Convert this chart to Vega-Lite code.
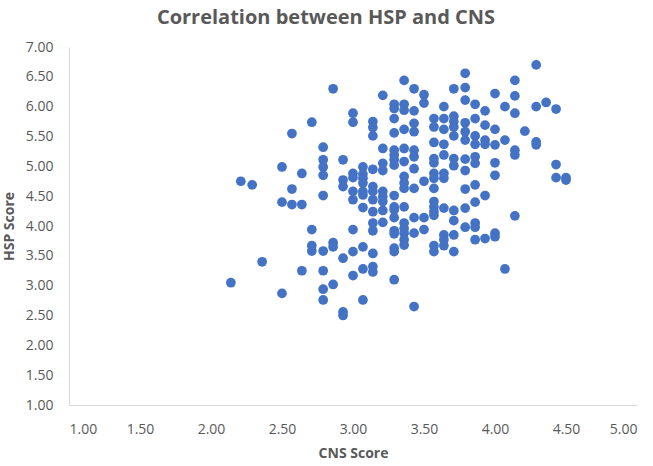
{
  "$schema": "https://vega.github.io/schema/vega-lite/v6.json",
  "width": 568,
  "height": 358,
  "autosize": {"type": "none"},
  "padding": {"left": 69, "top": 47, "right": 16, "bottom": 61},
  "background": "white",
  "config": {"view": {"stroke": null}},
  "title": {
    "text": "Correlation between HSP and CNS",
    "font": "Open Sans",
    "fontSize": 20,
    "fontWeight": "bold",
    "color": "#595959",
    "anchor": "middle",
    "dx": -27,
    "offset": 12
  },
  "data": {
    "values": [
      {"CNS": 2.14, "HSP": 3.05},
      {"CNS": 2.21, "HSP": 4.75},
      {"CNS": 2.29, "HSP": 4.69},
      {"CNS": 2.36, "HSP": 3.40},
      {"CNS": 2.5, "HSP": 4.99}, {"CNS": 2.5, "HSP": 4.40}, {"CNS": 2.5, "HSP": 2.87},
      {"CNS": 2.57, "HSP": 5.55}, {"CNS": 2.57, "HSP": 4.62}, {"CNS": 2.57, "HSP": 4.36},
      {"CNS": 2.64, "HSP": 4.88}, {"CNS": 2.64, "HSP": 4.36}, {"CNS": 2.64, "HSP": 3.25},
      {"CNS": 2.71, "HSP": 5.74}, {"CNS": 2.71, "HSP": 3.94}, {"CNS": 2.71, "HSP": 3.67}, {"CNS": 2.71, "HSP": 3.58},
      {"CNS": 2.79, "HSP": 5.32}, {"CNS": 2.79, "HSP": 5.11}, {"CNS": 2.79, "HSP": 4.99}, {"CNS": 2.79, "HSP": 4.85}, {"CNS": 2.79, "HSP": 4.51}, {"CNS": 2.79, "HSP": 3.58}, {"CNS": 2.79, "HSP": 3.25}, {"CNS": 2.79, "HSP": 2.94}, {"CNS": 2.79, "HSP": 2.76},
      {"CNS": 2.86, "HSP": 6.30}, {"CNS": 2.86, "HSP": 3.72}, {"CNS": 2.86, "HSP": 3.65}, {"CNS": 2.86, "HSP": 3.02},
      {"CNS": 2.93, "HSP": 5.11}, {"CNS": 2.93, "HSP": 4.77}, {"CNS": 2.93, "HSP": 4.66}, {"CNS": 2.93, "HSP": 3.46}, {"CNS": 2.93, "HSP": 2.56}, {"CNS": 2.93, "HSP": 2.50},
      {"CNS": 3.0, "HSP": 5.89}, {"CNS": 3.0, "HSP": 5.74}, {"CNS": 3.0, "HSP": 4.88}, {"CNS": 3.0, "HSP": 4.81}, {"CNS": 3.0, "HSP": 4.58}, {"CNS": 3.0, "HSP": 4.44}, {"CNS": 3.0, "HSP": 3.94}, {"CNS": 3.0, "HSP": 3.57}, {"CNS": 3.0, "HSP": 3.17},
      {"CNS": 3.07, "HSP": 4.99}, {"CNS": 3.07, "HSP": 4.87}, {"CNS": 3.07, "HSP": 4.80}, {"CNS": 3.07, "HSP": 4.72}, {"CNS": 3.07, "HSP": 4.58}, {"CNS": 3.07, "HSP": 4.52}, {"CNS": 3.07, "HSP": 4.31}, {"CNS": 3.07, "HSP": 3.65}, {"CNS": 3.07, "HSP": 3.28}, {"CNS": 3.07, "HSP": 2.76},
      {"CNS": 3.14, "HSP": 5.75}, {"CNS": 3.14, "HSP": 5.65}, {"CNS": 3.14, "HSP": 5.51}, {"CNS": 3.14, "HSP": 4.95}, {"CNS": 3.14, "HSP": 4.66}, {"CNS": 3.14, "HSP": 4.58}, {"CNS": 3.14, "HSP": 4.44}, {"CNS": 3.14, "HSP": 4.24}, {"CNS": 3.14, "HSP": 4.05}, {"CNS": 3.14, "HSP": 3.92}, {"CNS": 3.14, "HSP": 3.54}, {"CNS": 3.14, "HSP": 3.32}, {"CNS": 3.14, "HSP": 3.23},
      {"CNS": 3.21, "HSP": 6.19}, {"CNS": 3.21, "HSP": 5.30}, {"CNS": 3.21, "HSP": 5.05}, {"CNS": 3.21, "HSP": 4.93}, {"CNS": 3.21, "HSP": 4.58}, {"CNS": 3.21, "HSP": 4.49}, {"CNS": 3.21, "HSP": 4.41}, {"CNS": 3.21, "HSP": 4.26}, {"CNS": 3.21, "HSP": 4.06},
      {"CNS": 3.29, "HSP": 6.04}, {"CNS": 3.29, "HSP": 5.97}, {"CNS": 3.29, "HSP": 5.80}, {"CNS": 3.29, "HSP": 5.56}, {"CNS": 3.29, "HSP": 5.27}, {"CNS": 3.29, "HSP": 5.19}, {"CNS": 3.29, "HSP": 5.11}, {"CNS": 3.29, "HSP": 5.02}, {"CNS": 3.29, "HSP": 4.51}, {"CNS": 3.29, "HSP": 4.32}, {"CNS": 3.29, "HSP": 4.27}, {"CNS": 3.29, "HSP": 4.14}, {"CNS": 3.29, "HSP": 3.92}, {"CNS": 3.29, "HSP": 3.87}, {"CNS": 3.29, "HSP": 3.63}, {"CNS": 3.29, "HSP": 3.57}, {"CNS": 3.29, "HSP": 3.10},
      {"CNS": 3.36, "HSP": 6.44}, {"CNS": 3.36, "HSP": 6.04}, {"CNS": 3.36, "HSP": 5.94}, {"CNS": 3.36, "HSP": 5.62}, {"CNS": 3.36, "HSP": 5.30}, {"CNS": 3.36, "HSP": 5.08}, {"CNS": 3.36, "HSP": 4.83}, {"CNS": 3.36, "HSP": 4.72}, {"CNS": 3.36, "HSP": 4.63}, {"CNS": 3.36, "HSP": 4.32}, {"CNS": 3.36, "HSP": 4.05}, {"CNS": 3.36, "HSP": 3.96}, {"CNS": 3.36, "HSP": 3.88}, {"CNS": 3.36, "HSP": 3.77}, {"CNS": 3.36, "HSP": 3.68},
      {"CNS": 3.43, "HSP": 6.30}, {"CNS": 3.43, "HSP": 5.93}, {"CNS": 3.43, "HSP": 5.72}, {"CNS": 3.43, "HSP": 5.58}, {"CNS": 3.43, "HSP": 5.27}, {"CNS": 3.43, "HSP": 5.16}, {"CNS": 3.43, "HSP": 4.96}, {"CNS": 3.43, "HSP": 4.63}, {"CNS": 3.43, "HSP": 4.14}, {"CNS": 3.43, "HSP": 3.88}, {"CNS": 3.43, "HSP": 2.65},
      {"CNS": 3.5, "HSP": 6.20}, {"CNS": 3.5, "HSP": 6.06}, {"CNS": 3.5, "HSP": 4.75}, {"CNS": 3.5, "HSP": 4.14}, {"CNS": 3.5, "HSP": 3.94},
      {"CNS": 3.57, "HSP": 5.80}, {"CNS": 3.57, "HSP": 5.66}, {"CNS": 3.57, "HSP": 5.40}, {"CNS": 3.57, "HSP": 5.13}, {"CNS": 3.57, "HSP": 5.06}, {"CNS": 3.57, "HSP": 4.88}, {"CNS": 3.57, "HSP": 4.80}, {"CNS": 3.57, "HSP": 4.63}, {"CNS": 3.57, "HSP": 4.41}, {"CNS": 3.57, "HSP": 4.32}, {"CNS": 3.57, "HSP": 4.24}, {"CNS": 3.57, "HSP": 4.18}, {"CNS": 3.57, "HSP": 3.67}, {"CNS": 3.57, "HSP": 3.57},
      {"CNS": 3.64, "HSP": 6.00}, {"CNS": 3.64, "HSP": 5.80}, {"CNS": 3.64, "HSP": 5.62}, {"CNS": 3.64, "HSP": 5.37}, {"CNS": 3.64, "HSP": 5.19}, {"CNS": 3.64, "HSP": 4.88}, {"CNS": 3.64, "HSP": 4.80}, {"CNS": 3.64, "HSP": 4.30}, {"CNS": 3.64, "HSP": 3.85}, {"CNS": 3.64, "HSP": 3.77}, {"CNS": 3.64, "HSP": 3.67},
      {"CNS": 3.71, "HSP": 6.30}, {"CNS": 3.71, "HSP": 5.84}, {"CNS": 3.71, "HSP": 5.75}, {"CNS": 3.71, "HSP": 5.66}, {"CNS": 3.71, "HSP": 5.51}, {"CNS": 3.71, "HSP": 5.13}, {"CNS": 3.71, "HSP": 5.01}, {"CNS": 3.71, "HSP": 4.26}, {"CNS": 3.71, "HSP": 4.09}, {"CNS": 3.71, "HSP": 3.85}, {"CNS": 3.71, "HSP": 3.57},
      {"CNS": 3.79, "HSP": 6.56}, {"CNS": 3.79, "HSP": 6.32}, {"CNS": 3.79, "HSP": 6.11}, {"CNS": 3.79, "HSP": 5.73}, {"CNS": 3.79, "HSP": 5.58}, {"CNS": 3.79, "HSP": 5.44}, {"CNS": 3.79, "HSP": 5.12}, {"CNS": 3.79, "HSP": 4.93}, {"CNS": 3.79, "HSP": 4.62}, {"CNS": 3.79, "HSP": 4.30}, {"CNS": 3.79, "HSP": 3.98},
      {"CNS": 3.86, "HSP": 6.04}, {"CNS": 3.86, "HSP": 5.80}, {"CNS": 3.86, "HSP": 5.51}, {"CNS": 3.86, "HSP": 5.37}, {"CNS": 3.86, "HSP": 5.16}, {"CNS": 3.86, "HSP": 5.05}, {"CNS": 3.86, "HSP": 4.69}, {"CNS": 3.86, "HSP": 4.40}, {"CNS": 3.86, "HSP": 4.05}, {"CNS": 3.86, "HSP": 3.98}, {"CNS": 3.86, "HSP": 3.77},
      {"CNS": 3.93, "HSP": 5.93}, {"CNS": 3.93, "HSP": 5.69}, {"CNS": 3.93, "HSP": 5.44}, {"CNS": 3.93, "HSP": 5.37}, {"CNS": 3.93, "HSP": 4.51}, {"CNS": 3.93, "HSP": 3.79},
      {"CNS": 4.0, "HSP": 6.22}, {"CNS": 4.0, "HSP": 5.62}, {"CNS": 4.0, "HSP": 5.36}, {"CNS": 4.0, "HSP": 5.06}, {"CNS": 4.0, "HSP": 4.85}, {"CNS": 4.0, "HSP": 3.88}, {"CNS": 4.0, "HSP": 3.82},
      {"CNS": 4.07, "HSP": 6.00}, {"CNS": 4.07, "HSP": 5.44}, {"CNS": 4.07, "HSP": 3.28},
      {"CNS": 4.14, "HSP": 6.44}, {"CNS": 4.14, "HSP": 6.18}, {"CNS": 4.14, "HSP": 5.89}, {"CNS": 4.14, "HSP": 5.27}, {"CNS": 4.14, "HSP": 5.19}, {"CNS": 4.14, "HSP": 4.17},
      {"CNS": 4.21, "HSP": 5.59},
      {"CNS": 4.29, "HSP": 6.70}, {"CNS": 4.29, "HSP": 6.00}, {"CNS": 4.29, "HSP": 5.41}, {"CNS": 4.29, "HSP": 5.36},
      {"CNS": 4.36, "HSP": 6.07},
      {"CNS": 4.43, "HSP": 5.96}, {"CNS": 4.43, "HSP": 5.03}, {"CNS": 4.43, "HSP": 4.81},
      {"CNS": 4.5, "HSP": 4.81}, {"CNS": 4.5, "HSP": 4.77}
    ]
  },
  "mark": {"type": "circle", "size": 95, "color": "#4472C4", "opacity": 1},
  "encoding": {
    "x": {
      "field": "CNS",
      "type": "quantitative",
      "title": "CNS Score",
      "scale": {"domain": [1, 5], "nice": false, "zero": false},
      "axis": {
        "values": [1, 1.5, 2, 2.5, 3, 3.5, 4, 4.5, 5],
        "format": ".2f",
        "grid": false,
        "ticks": false,
        "domainColor": "#D9D9D9",
        "domainWidth": 1,
        "labelFont": "Open Sans",
        "labelFontSize": 14,
        "labelColor": "#595959",
        "labelPadding": 17,
        "titleFont": "Open Sans",
        "titleFontSize": 14,
        "titleFontWeight": "bold",
        "titleColor": "#595959",
        "titlePadding": 10
      }
    },
    "y": {
      "field": "HSP",
      "type": "quantitative",
      "title": "HSP Score",
      "scale": {"domain": [1, 7], "nice": false, "zero": false},
      "axis": {
        "values": [1, 1.5, 2, 2.5, 3, 3.5, 4, 4.5, 5, 5.5, 6, 6.5, 7],
        "format": ".2f",
        "grid": false,
        "ticks": false,
        "domainColor": "#D9D9D9",
        "domainWidth": 1,
        "labelFont": "Open Sans",
        "labelFontSize": 14,
        "labelColor": "#595959",
        "labelPadding": 16,
        "titleFont": "Open Sans",
        "titleFontSize": 14,
        "titleFontWeight": "bold",
        "titleColor": "#595959",
        "titlePadding": 9
      }
    }
  }
}
